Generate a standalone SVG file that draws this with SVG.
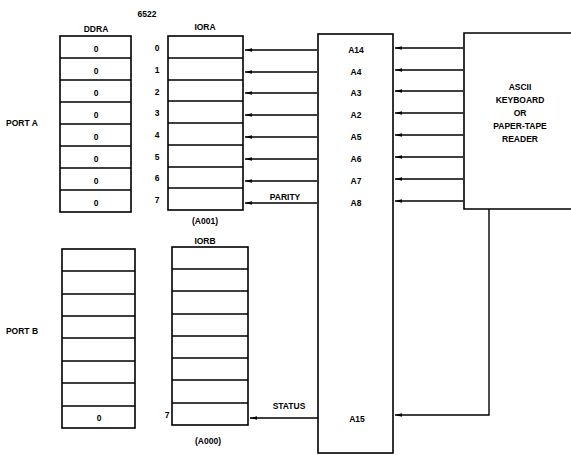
<svg xmlns="http://www.w3.org/2000/svg" width="571" height="455" viewBox="0 0 571 455">
<style>
text{font-family:"Liberation Sans",Arial,sans-serif;font-weight:bold;font-size:8.5px;fill:#000;text-anchor:middle}
.b{fill:none;stroke:#000;stroke-width:1.6}
.c{fill:none;stroke:#000;stroke-width:1.4;marker-end:url(#ah)}
</style>
<defs>
<marker id="ah" markerWidth="8" markerHeight="6" refX="7" refY="3" orient="auto" markerUnits="userSpaceOnUse">
<path d="M0,1.2 L7,3 L0,4.8 Z" fill="#000"/>
</marker>
</defs>
<rect width="571" height="455" fill="#fff"/>
<text x="147" y="17">6522</text>
<text x="96" y="32">DDRA</text>
<text x="205" y="30">IORA</text>
<text x="22" y="126">PORT A</text>
<text x="22" y="334">PORT B</text>

<g id="ddra">
<rect class="b" x="60" y="36" width="71" height="176"/>
<path class="b" d="M60,58H131M60,80H131M60,102H131M60,124H131M60,146H131M60,168H131M60,190H131"/>
<text x="96" y="52">0</text><text x="96" y="74">0</text><text x="96" y="96">0</text><text x="96" y="118">0</text>
<text x="96" y="140">0</text><text x="96" y="162">0</text><text x="96" y="184">0</text><text x="96" y="206">0</text>
</g>
<g id="iora">
<rect class="b" x="168" y="36" width="75" height="174"/>
<path class="b" d="M168,58H243M168,80H243M168,101H243M168,123H243M168,145H243M168,167H243M168,188H243"/>
<text x="157" y="51">0</text><text x="157" y="73">1</text><text x="157" y="95">2</text><text x="157" y="116">3</text>
<text x="157" y="138">4</text><text x="157" y="160">5</text><text x="157" y="181">6</text><text x="157" y="203">7</text>
<text x="205" y="224">(A001)</text>
</g>
<g id="ddrb">
<rect class="b" x="62" y="249" width="73" height="179"/>
<path class="b" d="M62,271H135M62,294H135M62,316H135M62,338H135M62,361H135M62,383H135M62,406H135"/>
<text x="99" y="421">0</text>
</g>
<g id="iorb">
<rect class="b" x="172" y="247" width="76" height="178"/>
<path class="b" d="M172,269H248M172,291H248M172,314H248M172,336H248M172,358H248M172,380H248M172,403H248"/>
<text x="205" y="244">IORB</text>
<text x="167" y="418">7</text>
<text x="208" y="444">(A000)</text>
</g>
<g id="bus">
<rect class="b" x="318" y="34" width="75" height="419"/>
<text x="356" y="53">A14</text><text x="356" y="75">A4</text><text x="356" y="96">A3</text><text x="356" y="118">A2</text>
<text x="356" y="140">A5</text><text x="356" y="162">A6</text><text x="356" y="184">A7</text><text x="356" y="206">A8</text>
<text x="357" y="422">A15</text>
</g>
<g id="keyboard">
<path class="b" d="M572,33H464V209H572"/>
<text x="520" y="90">ASCII</text>
<text x="520" y="103">KEYBOARD</text>
<text x="520" y="116">OR</text>
<text x="520" y="129">PAPER-TAPE</text>
<text x="520" y="142">READER</text>
</g>
<g id="connectors">
<path class="c" d="M317,50H245"/><path class="c" d="M317,72H245"/><path class="c" d="M317,93H245"/><path class="c" d="M317,115H245"/>
<path class="c" d="M317,137H245"/><path class="c" d="M317,159H245"/><path class="c" d="M317,181H245"/><path class="c" d="M317,203H245"/>
<path class="c" d="M463,48H395"/><path class="c" d="M463,70H395"/><path class="c" d="M463,91H395"/><path class="c" d="M463,113H395"/>
<path class="c" d="M463,135H395"/><path class="c" d="M463,157H395"/><path class="c" d="M463,179H395"/><path class="c" d="M463,201H395"/>
<path class="c" d="M489,209V415H395"/>
<path class="c" d="M318,418H250"/>
<text x="285" y="200">PARITY</text>
<text x="289" y="409">STATUS</text>
</g>
</svg>
